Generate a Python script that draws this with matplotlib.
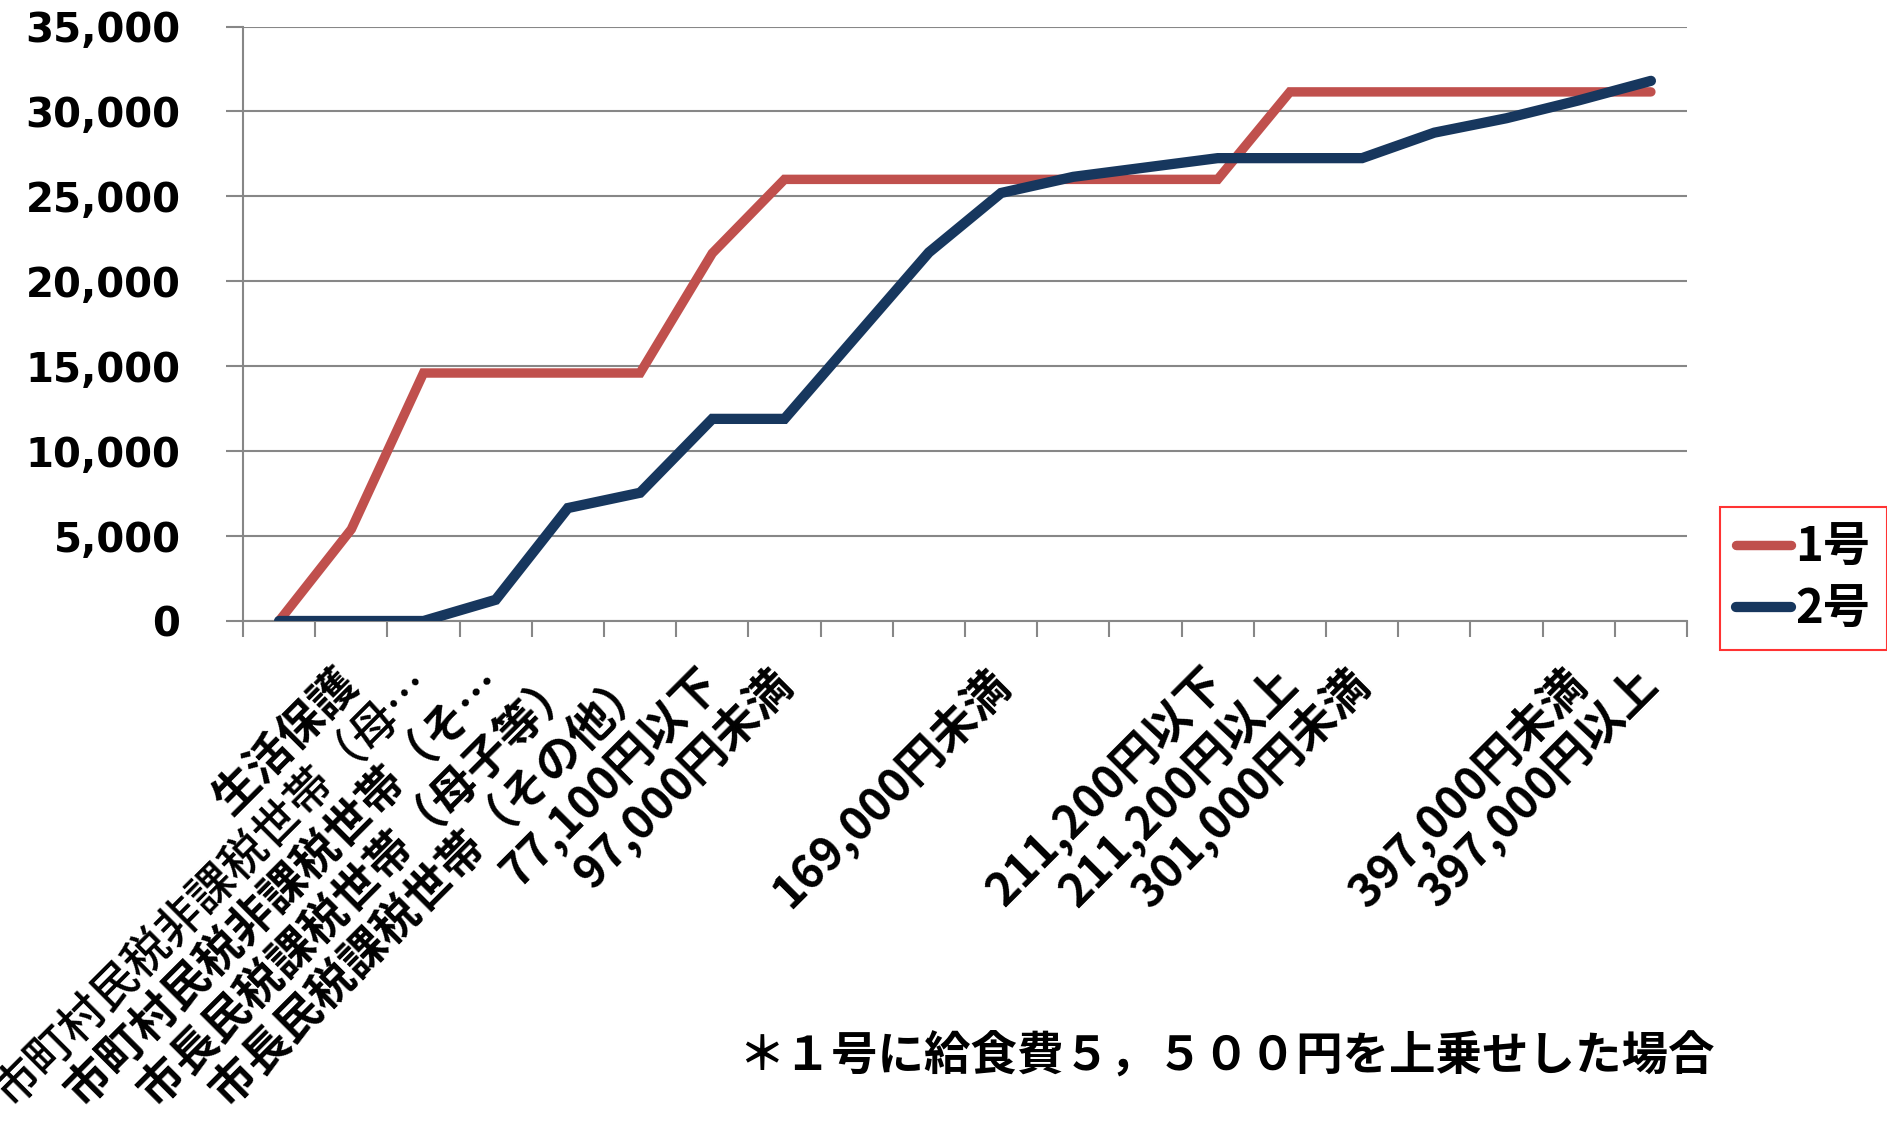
import matplotlib.pyplot as plt
import numpy as np

plt.rcParams['font.family'] = ['DejaVu Sans', 'Noto Sans CJK JP']

# categories (income brackets); blank entries are unlabeled steps
categories = ['', '生活保護', '市町村民税非課税世帯（母…', '市町村民税非課税世帯（そ…',
              '市長民税課税世帯（母子等）', '市長民税課税世帯（その他）',
              '77,100円以下', '97,000円未満', '', '', '169,000円未満', '', '',
              '211,200円以下', '211,200円以上', '301,000円未満', '', '',
              '397,000円未満', '397,000円以上']

# monthly amounts (yen)
gou1 = [0, 5400, 14600, 14600, 14600, 14600, 21650, 26000, 26000, 26000,
        26000, 26000, 26000, 26000, 31150, 31150, 31150, 31150, 31150, 31150]
gou2 = [0, 0, 0, 1250, 6650, 7550, 11900, 11900, 16800, 21700,
        25200, 26150, 26700, 27250, 27250, 27250, 28750, 29600, 30650, 31800]

note = '＊１号に給食費５，５００円を上乗せした場合'

grid_col = '#878787'
cjk = ['Noto Sans CJK JP', 'DejaVu Sans']
W, H = 1887, 1143

fig = plt.figure(figsize=(W / 100, H / 100), dpi=100)
ax = fig.add_axes([243 / W, 1 - 621 / H, (1687 - 243) / W, (621 - 26.5) / H])

x = np.arange(len(categories))
ax.plot(x, gou1, color='#C0504D', lw=6.8, solid_capstyle='round',
        solid_joinstyle='miter', label='1号', zorder=3)
ax.plot(x, gou2, color='#17375E', lw=7.4, solid_capstyle='round',
        solid_joinstyle='miter', label='2号', zorder=4)

ax.set_xlim(-0.5, len(categories) - 0.5)
ax.set_ylim(0, 35000)

# y axis
yt = np.arange(0, 35001, 5000)
ax.set_yticks(yt)
ax.set_yticklabels([f'{v:,}' for v in yt], fontsize=29, fontweight='bold')
ax.yaxis.grid(True, color=grid_col, lw=1.5)
ax.set_axisbelow(True)
ax.tick_params(axis='y', length=12, width=1.5, color=grid_col, pad=33)

# x axis: labels at points, tick marks between categories
ax.set_xticks(x)
ax.set_xticklabels(categories, rotation=45, ha='right', va='center',
                   rotation_mode='anchor', fontsize=33, fontweight='bold',
                   family=cjk)
ax.get_xticklabels()[2].set_fontweight('medium')
ax.tick_params(axis='x', length=0, pad=40)
ax.set_xticks(np.arange(-0.5, len(categories), 1), minor=True)
ax.tick_params(axis='x', which='minor', length=11.5, width=1.5, color=grid_col)

for s in ['top', 'right']:
    ax.spines[s].set_visible(False)
for s in ['left', 'bottom']:
    ax.spines[s].set_color(grid_col)
    ax.spines[s].set_linewidth(1.5)

leg = fig.legend(loc='center', bbox_to_anchor=(1803.5 / W, 1 - 578.5 / H),
                 prop={'weight': 'bold', 'size': 34, 'family': cjk},
                 handlelength=1.15, handletextpad=0.1, labelspacing=0.3,
                 borderpad=0.35, borderaxespad=0, fancybox=False, frameon=True)
leg.get_frame().set_edgecolor('#FF0000')
leg.get_frame().set_linewidth(1.5)

fig.text(738 / W, 1 - 1057 / H, note, fontsize=33.5, fontweight='bold',
         family=cjk, ha='left', va='center')

fig.savefig('out.png', dpi=100)
